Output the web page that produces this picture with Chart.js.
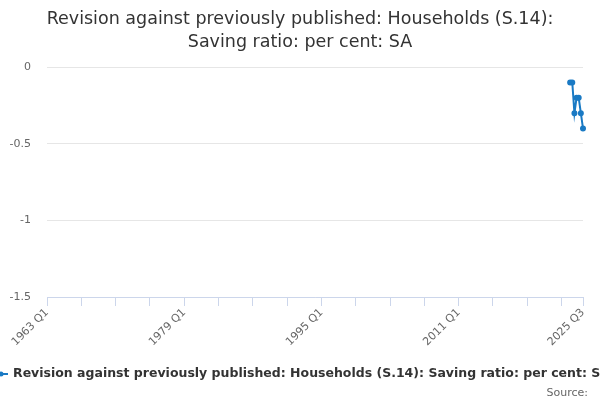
<!DOCTYPE html>
<html>
<head>
<meta charset="utf-8">
<script src="https://cdn.jsdelivr.net/npm/chart.js@4/dist/chart.umd.min.js"></script>
<style>
  html, body { margin: 0; padding: 0; background: #fff; }
</style>
</head>
<body>
<canvas id="chart" width="600" height="400"></canvas>
<script>
// quarters from 1963 Q1 to 2025 Q3
const startYear = 1963;
const endYear = 2025;
const endQuarter = 3;

// only the last quarters have revisions published
const revisionQuarters = ['2024 Q1', '2024 Q2', '2024 Q3', '2024 Q4', '2025 Q1', '2025 Q2', '2025 Q3'];
const revisionValues = [-0.1, -0.1, -0.3, -0.2, -0.2, -0.3, -0.4];

const yTicks = [0, -0.5, -1, -1.5];
const seriesName = 'Revision against previously published: Households (S.14): Saving ratio: per cent: SA';

var labels = [];
for (let y = startYear; y <= endYear; y++) {
    for (let q = 1; q <= 4; q++) {
        if (y === endYear && q > endQuarter) break;
        labels.push(y + ' Q' + q);
    }
}
var values = labels.map(function(l) {
    var i = revisionQuarters.indexOf(l);
    return i >= 0 ? revisionValues[i] : null;
});
var last = labels.length - 1;

// legend + source drawn under the axis
const footer = {
    id: 'footer',
    afterDraw: function(chart) {
        const ctx = chart.ctx;
        ctx.save();
        ctx.strokeStyle = '#1a7ac4';
        ctx.lineWidth = 2;
        ctx.beginPath();
        ctx.moveTo(-6, 374);
        ctx.lineTo(8, 374);
        ctx.stroke();
        ctx.fillStyle = '#1a7ac4';
        ctx.beginPath();
        ctx.arc(1, 374, 2.5, 0, Math.PI * 2);
        ctx.fill();
        ctx.font = 'bold 12.5px "DejaVu Sans"';
        ctx.fillStyle = '#333333';
        ctx.textBaseline = 'middle';
        ctx.fillText(seriesName, 13, 374);
        ctx.font = '11px "DejaVu Sans"';
        ctx.fillStyle = '#666666';
        ctx.textAlign = 'right';
        ctx.fillText('Source:', 588, 393);
        ctx.restore();
    }
};

new Chart(document.getElementById('chart').getContext('2d'), {
    type: 'line',
    data: {
        labels: labels,
        datasets: [{
            label: seriesName,
            data: values,
            borderColor: '#1a7ac4',
            backgroundColor: '#1a7ac4',
            borderWidth: 2,
            pointRadius: 2,
            pointHoverRadius: 3,
            spanGaps: false
        }]
    },
    options: {
        responsive: false,
        animation: false,
        layout: { padding: { left: 0, right: 0, top: 0, bottom: 53 } },
        plugins: {
            legend: { display: false },
            tooltip: { enabled: false },
            title: {
                display: true,
                text: ['Revision against previously published: Households (S.14):', 'Saving ratio: per cent: SA'],
                color: '#333333',
                font: { family: 'DejaVu Sans', size: 17.5, weight: 'normal', lineHeight: 1.32 },
                padding: { top: 8, bottom: 13 }
            }
        },
        scales: {
            y: {
                min: -1.5,
                max: 0,
                afterBuildTicks: function(scale) {
                    scale.ticks = yTicks.map(function(v) { return { value: v }; });
                },
                afterFit: function(scale) { scale.width = 47; },
                border: { display: false },
                grid: { color: '#e6e6e6', drawTicks: false },
                ticks: {
                    color: '#666666',
                    padding: 16,
                    font: { family: 'DejaVu Sans', size: 11 },
                    callback: function(v) { return String(v); }
                }
            },
            x: {
                afterFit: function(scale) { scale.height = 50; scale.paddingRight = 17; },
                offset: false,
                border: { display: true, color: '#ccd6eb' },
                grid: {
                    drawOnChartArea: false,
                    tickLength: 9,
                    color: function(c) {
                        return (c.index % 16 === 0 || c.index === last) ? '#ccd6eb' : 'rgba(0,0,0,0)';
                    }
                },
                ticks: {
                    autoSkip: false,
                    maxRotation: 45,
                    minRotation: 45,
                    padding: 0,
                    color: '#666666',
                    font: { family: 'DejaVu Sans', size: 11 },
                    callback: function(v, i) {
                        return (i % 64 === 0 || i === last) ? labels[i] : '';
                    }
                }
            }
        }
    },
    plugins: [footer]
});
</script>
</body>
</html>
